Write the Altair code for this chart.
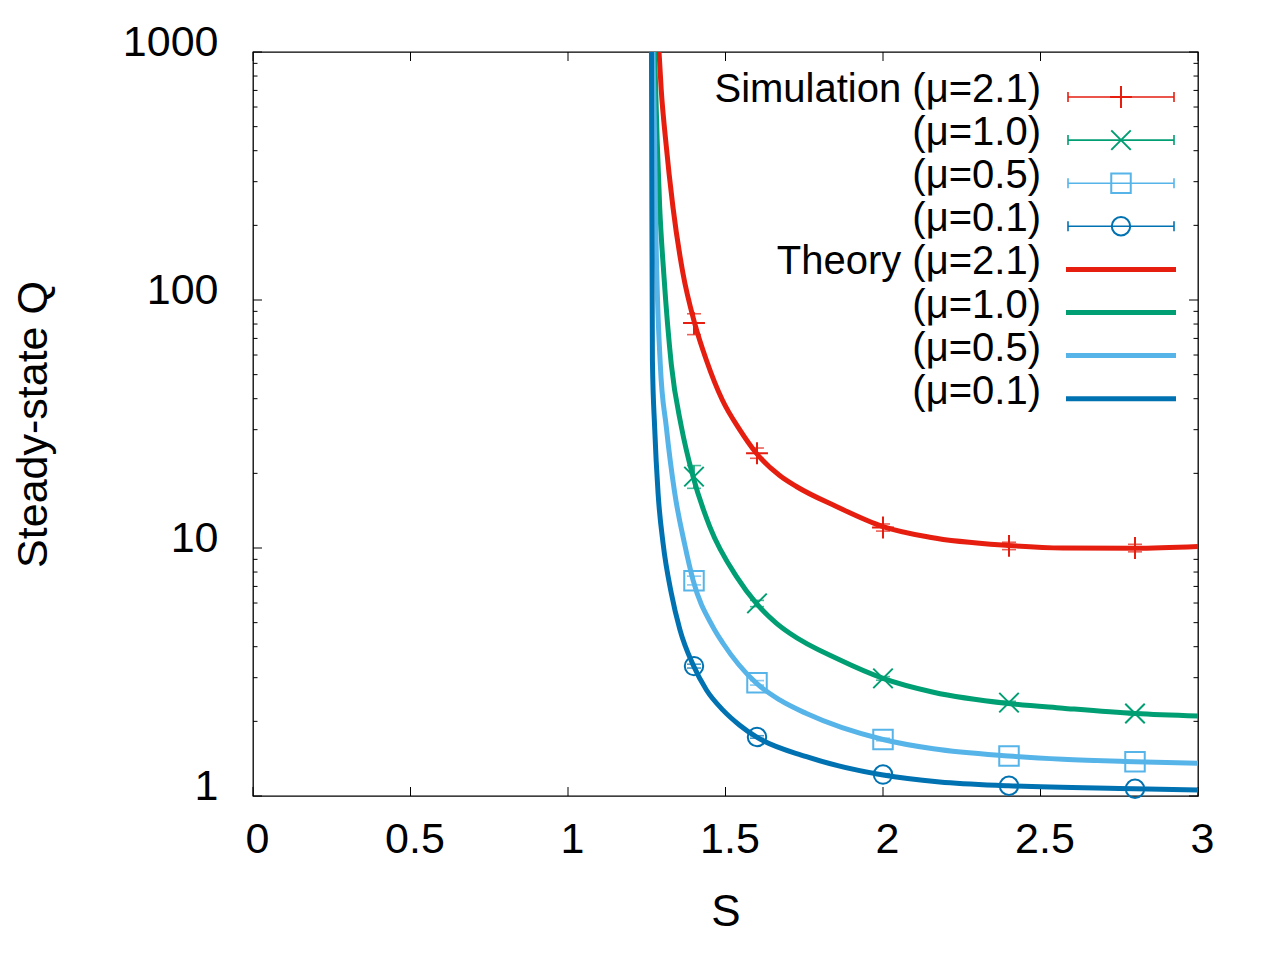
import altair as alt
import pandas as pd

FONT = "Liberation Sans"
W, H = 945, 744

# ---------------- data ----------------
names = ["mu21", "mu10", "mu05", "mu01"]
colors = {"mu21": "#e51e10", "mu10": "#009e73", "mu05": "#56b4e9", "mu01": "#0072b2"}

sim_s = [1.4, 1.6, 2.0, 2.4, 2.8]
sim_q = {
    "mu21": [80.7, 24.1, 12.1, 10.2, 10.0],
    "mu10": [19.4, 5.98, 2.98, 2.38, 2.15],
    "mu05": [7.38, 2.86, 1.69, 1.45, 1.375],
    "mu01": [3.34, 1.73, 1.22, 1.10, 1.07],
}
sim_lo = {
    "mu21": [72.5, 23.0, 11.7, 9.85, 9.65],
    "mu10": [17.4, 5.80, 2.93, 2.35, 2.13],
    "mu05": [7.10, 2.80, 1.67, 1.44, 1.37],
    "mu01": [3.28, 1.71, 1.21, 1.095, 1.065],
}
sim_hi = {
    "mu21": [88.0, 25.3, 12.5, 10.55, 10.35],
    "mu10": [21.5, 6.15, 3.03, 2.41, 2.17],
    "mu05": [7.70, 2.92, 1.71, 1.46, 1.38],
    "mu01": [3.40, 1.75, 1.23, 1.105, 1.075],
}

th_s = {
    "mu21": [1.289, 1.296, 1.310, 1.333, 1.365, 1.402, 1.44, 1.49, 1.545, 1.598, 1.672, 1.725, 1.852, 2.0, 2.148, 2.398, 2.571, 2.8, 3.0],
    "mu10": [1.275, 1.283, 1.291, 1.304, 1.328, 1.360, 1.397, 1.45, 1.535, 1.598, 1.662, 1.704, 1.862, 2.0, 2.16, 2.398, 2.571, 2.8, 3.0],
    "mu05": [1.270, 1.275, 1.278, 1.293, 1.312, 1.339, 1.370, 1.397, 1.460, 1.492, 1.598, 1.672, 1.757, 2.0, 2.16, 2.398, 2.571, 2.8, 3.0],
    "mu01": [1.265, 1.266, 1.268, 1.275, 1.286, 1.302, 1.328, 1.355, 1.397, 1.44, 1.492, 1.545, 1.598, 1.757, 2.0, 2.18, 2.398, 2.8, 3.0],
}
th_q = {
    "mu21": [1000, 703, 442, 238, 128, 80.7, 56.9, 39.5, 30.0, 24.1, 19.6, 17.7, 14.7, 12.2, 11.05, 10.24, 10.0, 9.98, 10.15],
    "mu10": [1000, 442, 238, 128, 55, 30.8, 19.4, 12.2, 7.66, 5.98, 4.97, 4.53, 3.54, 2.98, 2.62, 2.36, 2.26, 2.15, 2.10],
    "mu05": [1000, 442, 224, 55, 30.8, 16.6, 10.4, 7.42, 4.81, 4.13, 2.85, 2.44, 2.15, 1.69, 1.55, 1.45, 1.406, 1.375, 1.355],
    "mu01": [1000, 300, 57, 30.8, 16.6, 10.4, 6.57, 4.7, 3.38, 2.67, 2.22, 1.93, 1.73, 1.44, 1.215, 1.14, 1.10, 1.07, 1.057],
}

x_ticks = [0, 0.5, 1, 1.5, 2, 2.5, 3]
y_ticks = [1, 10, 100, 1000]
y_minor = [2, 3, 4, 5, 6, 7, 8, 9, 20, 30, 40, 50, 60, 70, 80, 90, 200, 300, 400, 500, 600, 700, 800, 900]

legend_labels = ["Simulation (μ=2.1)", "(μ=1.0)", "(μ=0.5)", "(μ=0.1)",
                 "Theory (μ=2.1)", "(μ=1.0)", "(μ=0.5)", "(μ=0.1)"]

shapes = {"mu21": "M-1,0L1,0M0,-1L0,1", "mu10": "M-1,-1L1,1M-1,1L1,-1",
          "mu05": "square", "mu01": "circle"}
sizes = {"mu21": 480, "mu10": 380, "mu05": 380, "mu01": 340}

# ---------------- scales / axes ----------------
xscale = alt.Scale(domain=[0, 3], nice=False, zero=False)
yscale = alt.Scale(type="log", domain=[1, 1000], nice=False)

x_axis = alt.Axis(title="S", values=x_ticks, labelExpr="'' + datum.value", ticks=False, domain=False,
                  grid=False, labelFont=FONT, labelFontSize=43, labelColor="black", labelPadding=56,
                  labelBaseline="alphabetic", labelOffset=4, labelFlush=False, labelOverlap=False,
                  titleFont=FONT, titleFontSize=44, titleFontWeight="normal", titleColor="black",
                  titleX=W / 2, titleY=129, titleBaseline="alphabetic", titleAlign="center")
y_axis = alt.Axis(title="Steady-state Q", values=y_ticks, labelExpr="'' + datum.value", ticks=False,
                  domain=False, grid=False, labelFont=FONT, labelFontSize=43, labelColor="black",
                  labelPadding=35, labelAlign="right", labelBaseline="alphabetic", labelOffset=3,
                  labelFlush=False, labelOverlap=False,
                  titleFont=FONT, titleFontSize=43, titleFontWeight="normal", titleColor="black",
                  titleX=-207, titleY=H / 2, titleAngle=270, titleBaseline="alphabetic", titleAlign="center")


def X(f):
    return alt.X(f, type="quantitative", scale=xscale, axis=x_axis)


def Y(f):
    return alt.Y(f, type="quantitative", scale=yscale, axis=y_axis)


layers = []

# axis tick marks (inward, all four sides)
xt = pd.DataFrame({"v": x_ticks})
yt = pd.DataFrame({"v": y_ticks})
ym = pd.DataFrame({"v": y_minor})
layers.append(alt.Chart(xt).mark_rule(color="black", strokeWidth=1).encode(x=X("v"), y=alt.value(H), y2=alt.value(H - 9)))
layers.append(alt.Chart(xt).mark_rule(color="black", strokeWidth=1).encode(x=X("v"), y=alt.value(0), y2=alt.value(9)))
layers.append(alt.Chart(yt).mark_rule(color="black", strokeWidth=1).encode(y=Y("v"), x=alt.value(0), x2=alt.value(9)))
layers.append(alt.Chart(yt).mark_rule(color="black", strokeWidth=1).encode(y=Y("v"), x=alt.value(W), x2=alt.value(W - 9)))
layers.append(alt.Chart(ym).mark_rule(color="black", strokeWidth=1).encode(y=Y("v"), x=alt.value(0), x2=alt.value(4.5)))
layers.append(alt.Chart(ym).mark_rule(color="black", strokeWidth=1).encode(y=Y("v"), x=alt.value(W), x2=alt.value(W - 4.5)))

# simulation points with error bars
for n in names:
    df = pd.DataFrame({"s": sim_s, "q": sim_q[n], "lo": sim_lo[n], "hi": sim_hi[n]})
    c = colors[n]
    layers.append(alt.Chart(df).mark_rule(color=c, strokeWidth=1.6, clip=True).encode(x=X("s"), y=Y("lo"), y2="hi"))
    layers.append(alt.Chart(df).mark_point(color=c, shape="M-1,0L1,0", size=196, strokeWidth=1.6, filled=False).encode(x=X("s"), y=Y("lo")))
    layers.append(alt.Chart(df).mark_point(color=c, shape="M-1,0L1,0", size=196, strokeWidth=1.6, filled=False).encode(x=X("s"), y=Y("hi")))
    layers.append(alt.Chart(df).mark_point(color=c, shape=shapes[n], size=sizes[n], strokeWidth=2, filled=False, opacity=1).encode(x=X("s"), y=Y("q")))

# theory curves
for n in names:
    df = pd.DataFrame({"s": th_s[n], "q": th_q[n]})
    layers.append(alt.Chart(df).mark_line(color=colors[n], strokeWidth=5, clip=True, interpolate="monotone").encode(x=X("s"), y=Y("q")))

# legend (gnuplot style: right-aligned label, sample on the right)
one = pd.DataFrame({"a": [0]})
for i, lab in enumerate(legend_labels):
    ry = 45 + 43.1 * i
    n = names[i % 4]
    c = colors[n]
    layers.append(alt.Chart(one).mark_text(align="right", baseline="alphabetic", font=FONT, fontSize=40, color="black").encode(
        x=alt.value(788), y=alt.value(ry + 5), text=alt.value(lab)))
    if i < 4:
        layers.append(alt.Chart(one).mark_rule(color=c, strokeWidth=1.6).encode(x=alt.value(815), x2=alt.value(921), y=alt.value(ry)))
        layers.append(alt.Chart(one).mark_rule(color=c, strokeWidth=1.6).encode(x=alt.value(815), y=alt.value(ry - 5), y2=alt.value(ry + 5)))
        layers.append(alt.Chart(one).mark_rule(color=c, strokeWidth=1.6).encode(x=alt.value(921), y=alt.value(ry - 5), y2=alt.value(ry + 5)))
        layers.append(alt.Chart(one).mark_point(color=c, shape=shapes[n], size=sizes[n], strokeWidth=2, filled=False, opacity=1).encode(
            x=alt.value(868), y=alt.value(ry)))
    else:
        layers.append(alt.Chart(one).mark_rule(color=c, strokeWidth=5).encode(x=alt.value(813), x2=alt.value(923), y=alt.value(ry)))

chart = alt.layer(*layers).properties(
    width=W, height=H,
    autosize=alt.AutoSizeParams(type="none"),
    padding={"left": 245, "top": 44, "right": 70, "bottom": 160},
    background="white",
).configure_view(stroke="black", strokeWidth=1.3)

chart.save("out.html", embed_options={"renderer": "svg", "actions": False})
